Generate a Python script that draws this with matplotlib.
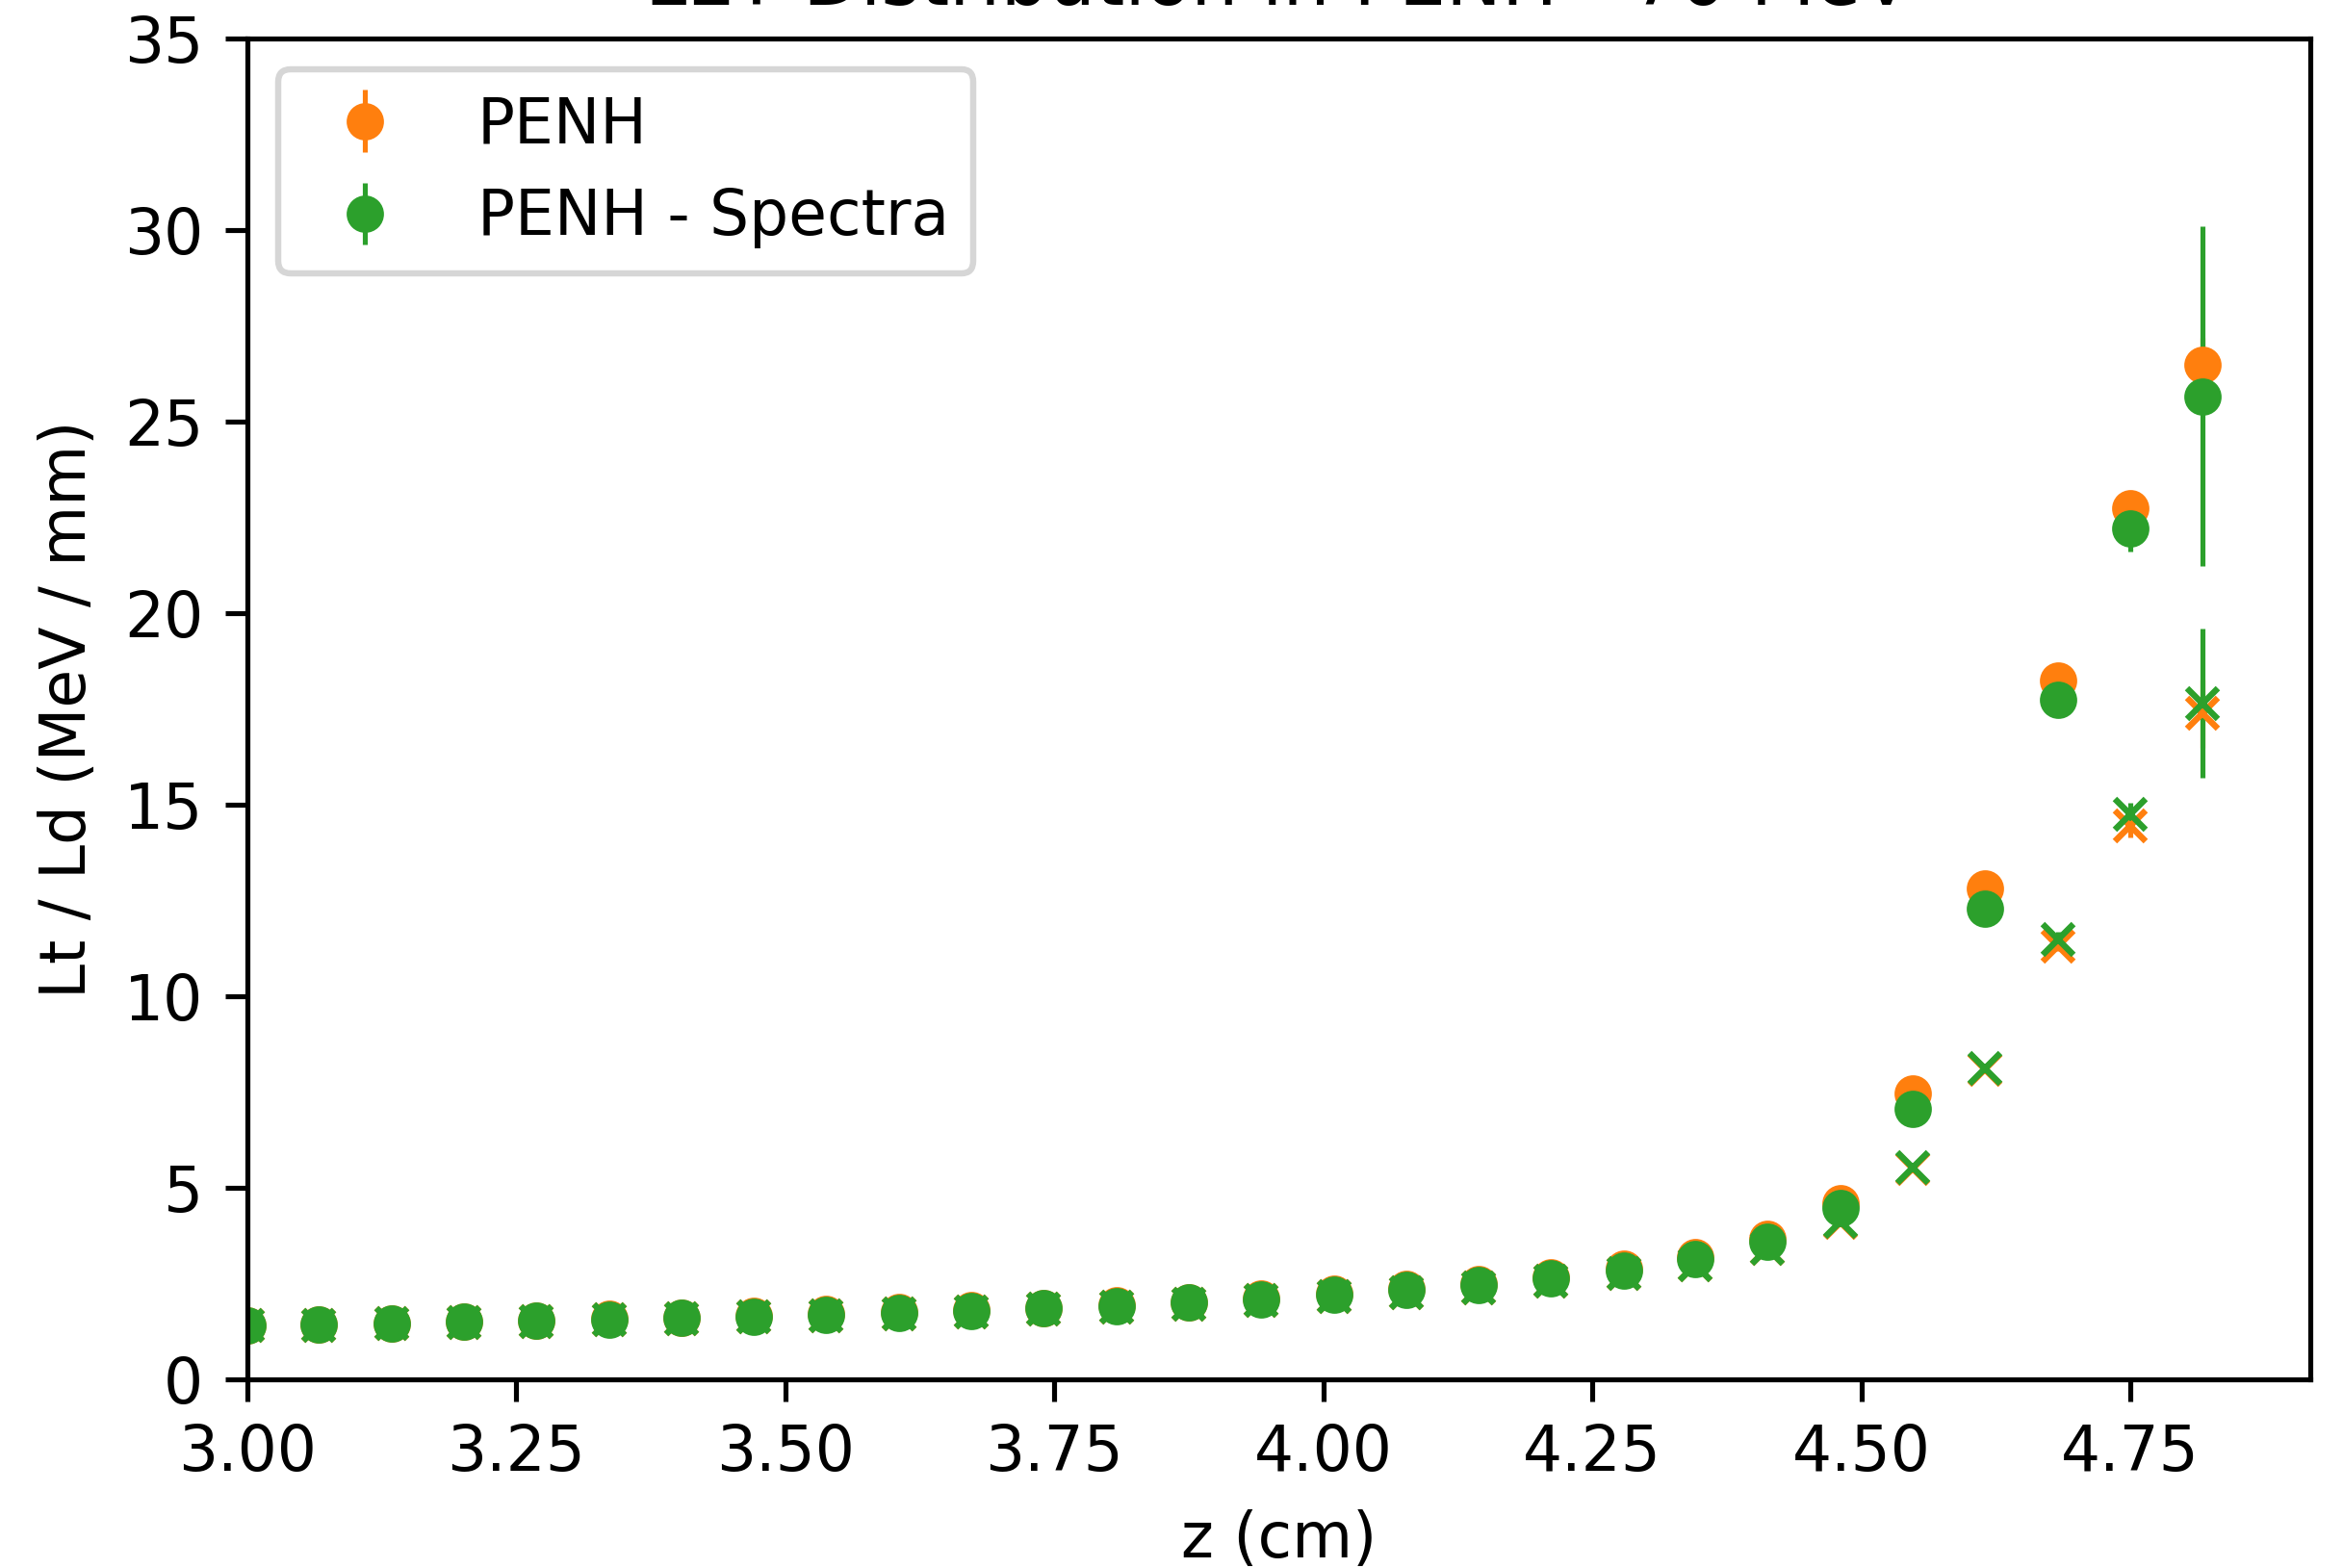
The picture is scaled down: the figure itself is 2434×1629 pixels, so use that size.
import matplotlib
matplotlib.use("Agg")
import matplotlib.pyplot as plt

# depth (cm)
z = [3.000, 3.067, 3.135, 3.202, 3.269, 3.337, 3.404, 3.471, 3.538, 3.606,
     3.673, 3.740, 3.808, 3.875, 3.942, 4.010, 4.077, 4.144, 4.211, 4.279,
     4.346, 4.413, 4.481, 4.548, 4.615, 4.683, 4.750, 4.817]

# dose averaged LET (circles)
ld_penh = [1.42, 1.44, 1.47, 1.51, 1.54, 1.58, 1.62, 1.66, 1.71, 1.76,
           1.81, 1.87, 1.94, 2.02, 2.11, 2.23, 2.36, 2.50, 2.66, 2.88,
           3.18, 3.68, 4.60, 7.47, 12.81, 18.24, 22.73, 26.48]
ld_spec = [1.41, 1.43, 1.46, 1.50, 1.53, 1.57, 1.61, 1.64, 1.69, 1.74,
           1.79, 1.85, 1.91, 2.00, 2.09, 2.20, 2.34, 2.47, 2.63, 2.84,
           3.13, 3.60, 4.48, 7.05, 12.30, 17.73, 22.22, 25.66]
ld_penh_err = [0.02] * 22 + [0.05, 0.08, 0.12, 0.2, 0.35, 0.7]
ld_spec_err = [0.02] * 22 + [0.05, 0.1, 0.15, 0.25, 0.62, 4.43]

# track averaged LET (crosses)
lt_penh = [1.40, 1.42, 1.45, 1.48, 1.51, 1.55, 1.59, 1.63, 1.67, 1.72,
           1.77, 1.83, 1.89, 1.96, 2.05, 2.15, 2.27, 2.40, 2.56, 2.76,
           3.00, 3.42, 4.10, 5.51, 8.10, 11.32, 14.45, 17.38]
lt_spec = [1.40, 1.42, 1.45, 1.48, 1.51, 1.55, 1.59, 1.63, 1.67, 1.72,
           1.77, 1.83, 1.89, 1.96, 2.05, 2.15, 2.27, 2.40, 2.56, 2.76,
           3.00, 3.42, 4.12, 5.52, 8.12, 11.48, 14.76, 17.65]
lt_penh_err = [0.02] * 22 + [0.04, 0.06, 0.1, 0.15, 0.3, 0.9]
lt_spec_err = [0.02] * 22 + [0.04, 0.06, 0.1, 0.2, 0.3, 1.95]

fig = plt.figure(figsize=(2434 / 465, 1629 / 465), dpi=465)
ax = fig.add_axes([0.1054, 0.1203, 0.8806, 0.8551])

ax.errorbar(z, ld_penh, yerr=ld_penh_err, fmt='o', ms=5, color='C1',
            elinewidth=0.8, label='PENH')
ax.errorbar(z, lt_penh, yerr=lt_penh_err, fmt='x', ms=5, color='C1',
            elinewidth=0.8)
ax.errorbar(z, ld_spec, yerr=ld_spec_err, fmt='o', ms=5, color='C2',
            elinewidth=0.8, label='PENH - Spectra')
ax.errorbar(z, lt_spec, yerr=lt_spec_err, fmt='x', ms=5, color='C2',
            elinewidth=0.8)

ax.set_xlim(3.0, 4.917)
ax.set_ylim(0, 35)
ax.set_xlabel('z (cm)')
ax.set_ylabel('Lt / Ld (MeV / mm)')
ax.set_title('LET Distribution in PENH - 70 MeV', pad=5.5)
ax.legend(loc='upper left')

fig.savefig('out.png', dpi=465)
